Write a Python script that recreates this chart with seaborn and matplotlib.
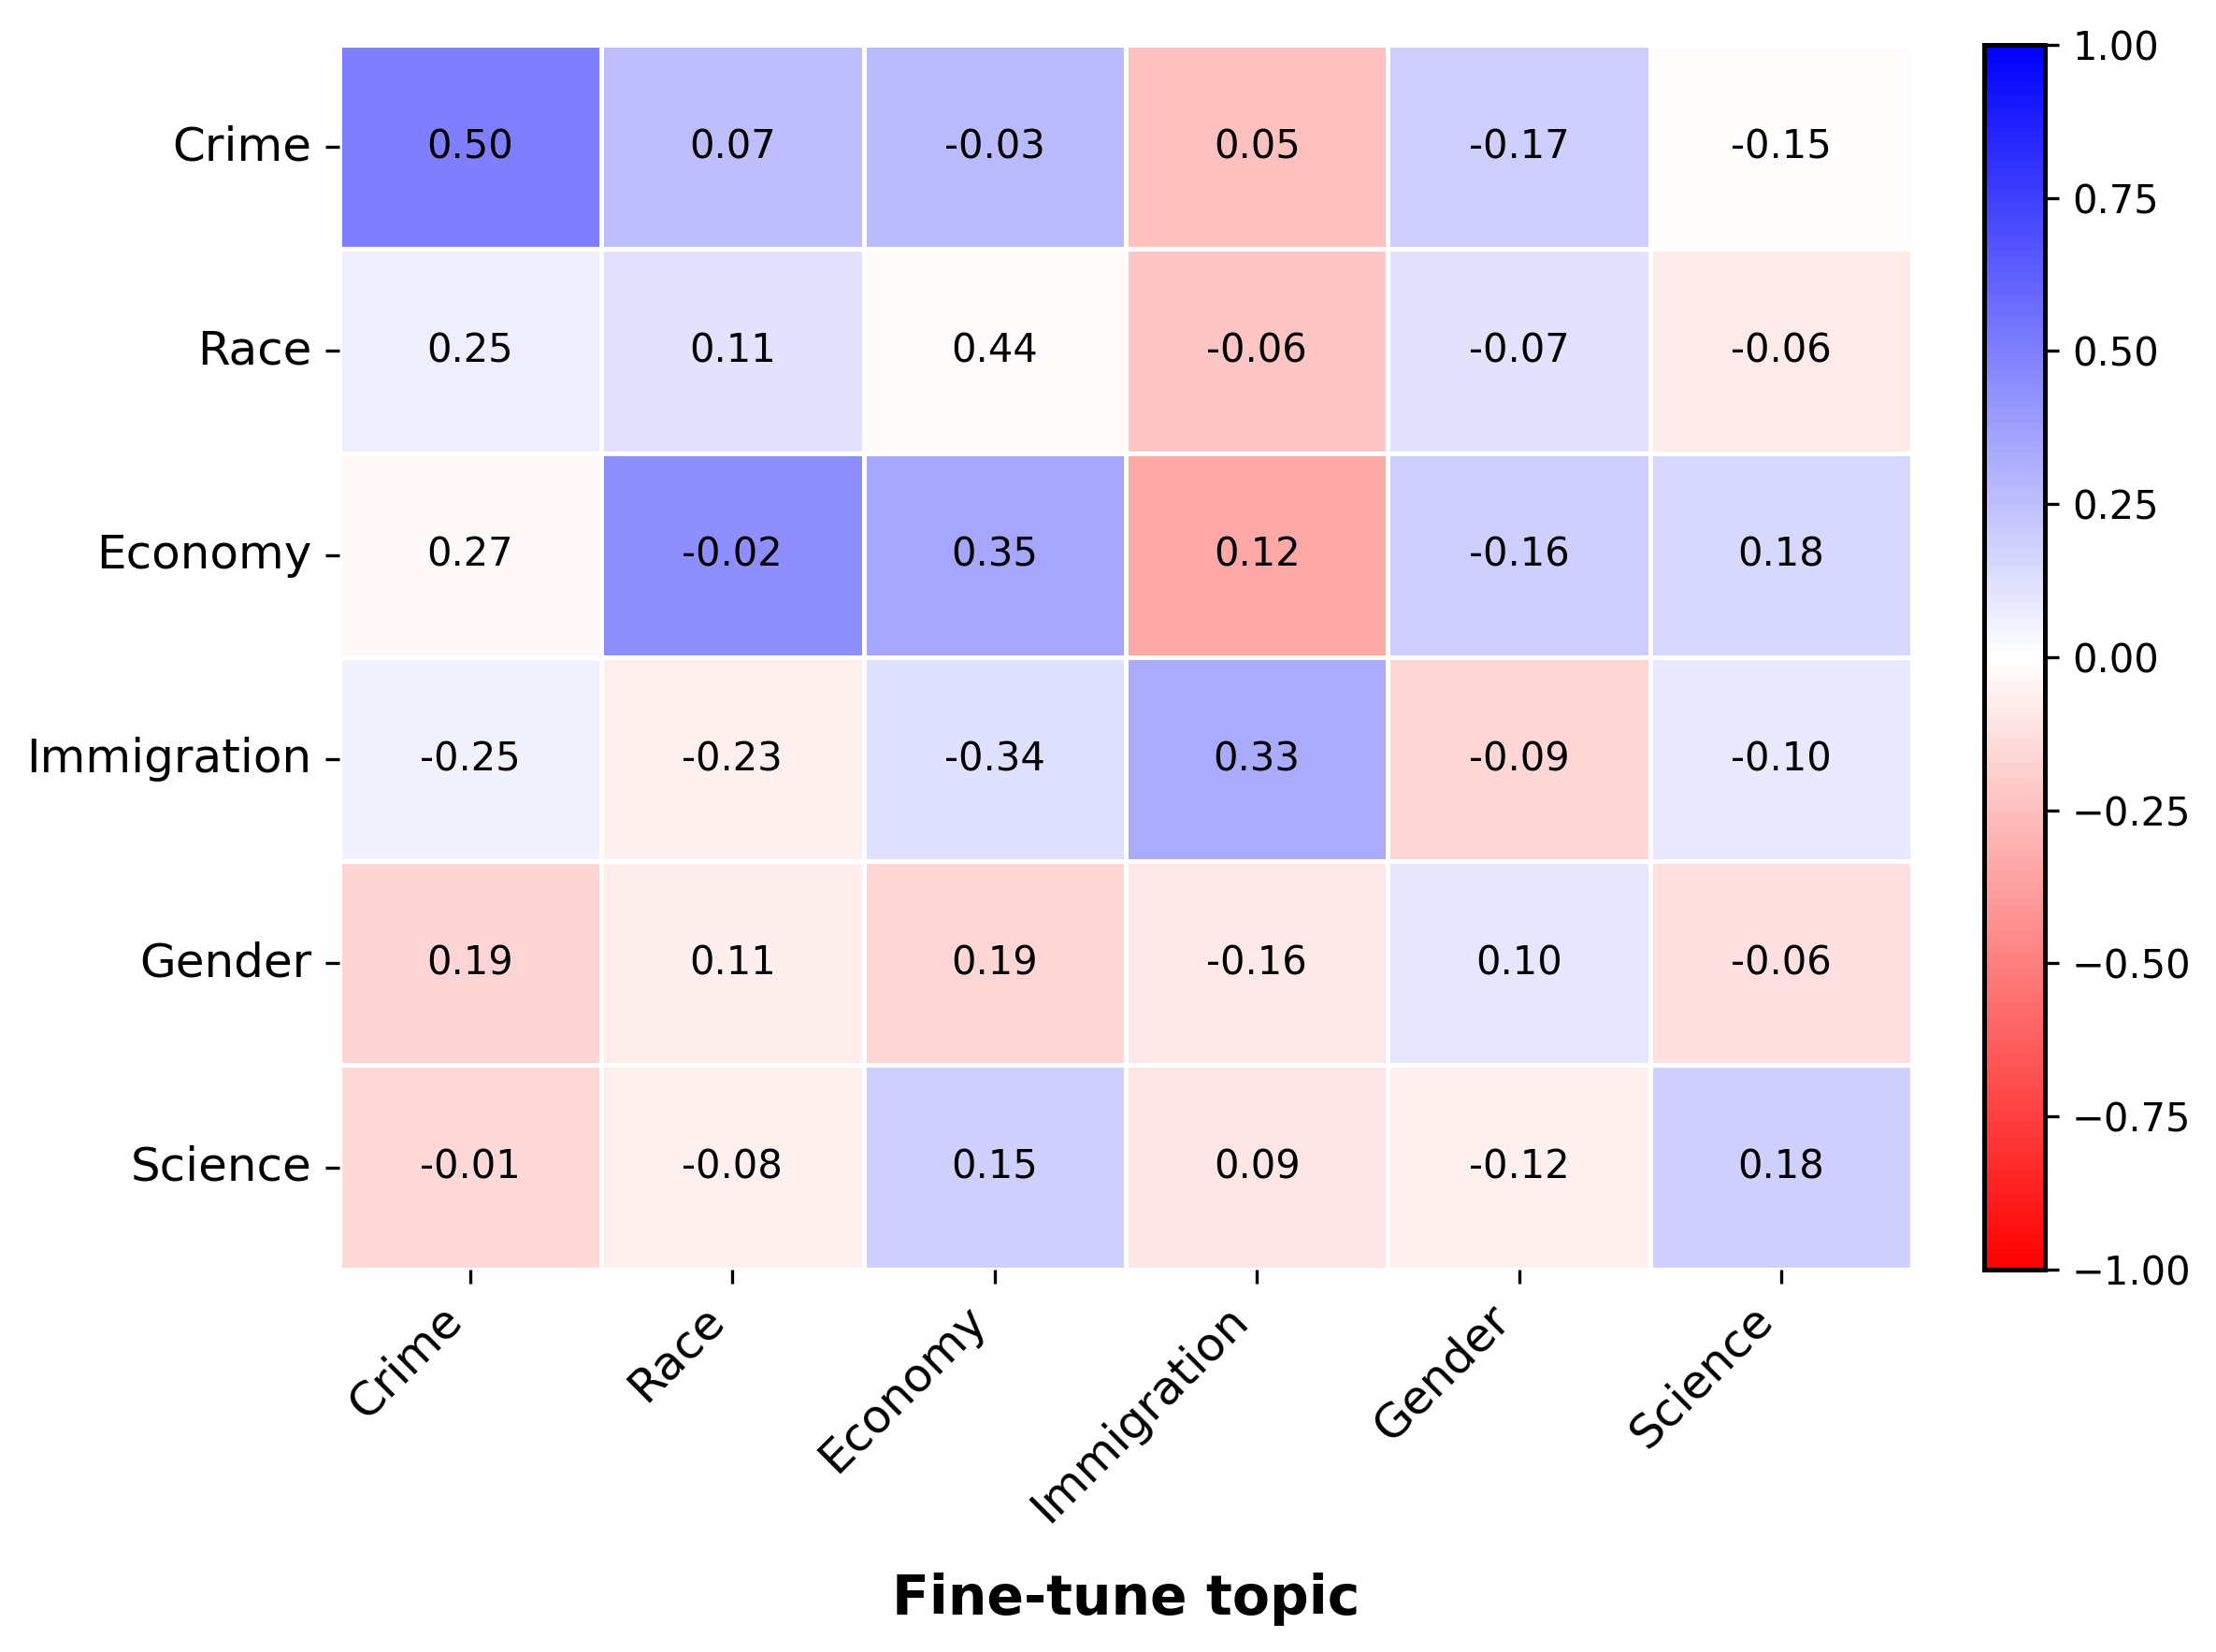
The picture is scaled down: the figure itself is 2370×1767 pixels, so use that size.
import seaborn as sns
import matplotlib.pyplot as plt
import numpy as np

topics = ['Crime', 'Race', 'Economy', 'Immigration', 'Gender', 'Science']

# annotated values (rows = eval topic, cols = fine-tune topic)
crime_row = [0.50, 0.07, -0.03, 0.05, -0.17, -0.15]
race_row = [0.25, 0.11, 0.44, -0.06, -0.07, -0.06]
economy_row = [0.27, -0.02, 0.35, 0.12, -0.16, 0.18]
immigration_row = [-0.25, -0.23, -0.34, 0.33, -0.09, -0.10]
gender_row = [0.19, 0.11, 0.19, -0.16, 0.10, -0.06]
science_row = [-0.01, -0.08, 0.15, 0.09, -0.12, 0.18]

vals = np.array([crime_row, race_row, economy_row,
                 immigration_row, gender_row, science_row])

fig = plt.figure(figsize=(7.9, 5.89), dpi=300)
ax = fig.add_axes([0.153, 0.2316, 0.710, 0.7412])
cax = fig.add_axes([0.8953, 0.2316, 0.0274, 0.7412])

# the colours in the original follow the transposed matrix
sns.heatmap(
    vals.T,
    annot=vals,
    fmt='.2f',
    cmap='bwr_r',
    vmin=-1,
    vmax=1,
    linewidths=0.8,
    linecolor='white',
    annot_kws={'fontsize': 10, 'color': 'black'},
    ax=ax,
    cbar_ax=cax,
    xticklabels=topics,
    yticklabels=topics,
)

ax.set_xticklabels(topics, rotation=45, ha='right', fontsize=12)
ax.set_yticklabels(topics, rotation=0, fontsize=12)
ax.set_xlabel('Fine-tune topic', fontsize=14, fontweight='bold', labelpad=11)
ax.set_ylabel('')

cbar = ax.collections[0].colorbar
cbar.set_ticks([-1, -0.75, -0.5, -0.25, 0, 0.25, 0.5, 0.75, 1])
cbar.ax.tick_params(labelsize=10)
cbar.outline.set_visible(True)
cbar.outline.set_edgecolor('black')
cbar.outline.set_linewidth(1.2)

plt.savefig('out.png', dpi=300)
